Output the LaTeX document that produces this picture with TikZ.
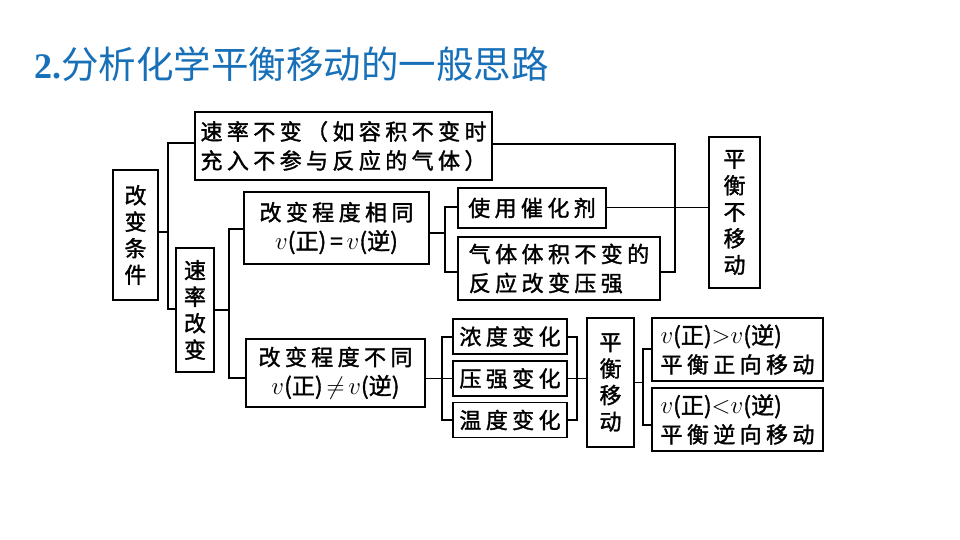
\documentclass[tikz,border=0pt]{standalone}
\usepackage{fontspec}
\newfontfamily\cjk[LetterSpace=20,FakeBold=1.5]{Noto Sans CJK SC}
\newfontfamily\cjkn[FakeBold=1.5]{Noto Sans CJK SC}
\newfontfamily\cjktitle{Noto Sans CJK SC}
\newfontfamily\titleserif{Liberation Serif}
\definecolor{titleblue}{RGB}{24,112,184}
\tikzset{
  box/.style={draw=black, line width=1.8pt, inner sep=0pt, align=center,
    font=\cjk\fontsize{22}{29}\selectfont},
  vbox/.style={box, font=\cjk\fontsize{22}{26.5}\selectfont},
  conn/.style={line width=1.6pt},
  thin/.style={line width=1pt}
}
\newcommand{\vv}{$v$}
\newcommand{\rateline}[1]{{\cjkn\fontsize{23}{29}\selectfont #1}}
\begin{document}
\begin{tikzpicture}[x=1pt,y=-1pt]
\useasboundingbox (0,0) rectangle (960,540);
\node[anchor=west, text=titleblue, inner sep=0pt] (title) at (34,64)
  {{\titleserif\bfseries\fontsize{36}{36}\selectfont 2.}{\cjktitle\fontsize{37.5}{38}\selectfont 分析化学平衡移动的一般思路}};

\node[vbox, minimum width=45, minimum height=130] (tj) at (135.5,235) {改\\变\\条\\件};
\node[box, minimum width=297, minimum height=68, align=left] (bb) at (343.5,146)
  {速率不变（如容积不变时\\充入不参与反应的气体）};
\node[vbox, minimum width=38, minimum height=124] (gb) at (195,310) {速\\率\\改\\变};
\node[box, minimum width=185, minimum height=72] (xt) at (336.5,228)
  {改变程度相同\\\rateline{\vv(正)\,=\,\vv(逆)}};
\node[box, minimum width=148, minimum height=40] (ch) at (532,208) {使用催化剂};
\node[box, minimum width=202, minimum height=63, align=left] (qt) at (559,268.5)
  {气体体积不变的\\反应改变压强};
\node[vbox, minimum width=51, minimum height=151] (bm) at (734.5,212.5) {平\\衡\\不\\移\\动};
\node[box, minimum width=179, minimum height=68] (bt) at (335.5,373)
  {改变程度不同\\\rateline{\vv(正)\,$\neq$\,\vv(逆)}};
\node[box, minimum width=114, minimum height=35] (nd) at (510,336.5) {浓度变化};
\node[box, minimum width=114, minimum height=35] (yq) at (510,378.5) {压强变化};
\node[box, minimum width=114, minimum height=35] (wd) at (510,420) {温度变化};
\node[vbox, minimum width=47, minimum height=129] (py) at (610.5,382.5) {平\\衡\\移\\动};
\node[box, minimum width=171, minimum height=63, align=left] (zx) at (737.5,349.5)
  {\rateline{\vv(正)$>$\vv(逆)}\\平衡正向移动};
\node[box, minimum width=171, minimum height=63, align=left] (nx) at (737.5,419.5)
  {\rateline{\vv(正)$<$\vv(逆)}\\平衡逆向移动};

% coordinates
\coordinate (a1) at (168,232);
\coordinate (a2) at (168,143);
\coordinate (a3) at (168,309);
\coordinate (b1) at (229,310);
\coordinate (b2) at (229,229);
\coordinate (b3) at (229,378);
\coordinate (c1) at (445,233);
\coordinate (c2) at (445,207);
\coordinate (c3) at (445,272);
\coordinate (d1) at (675,144);
\coordinate (d2) at (675,272);
\coordinate (e1) at (442,337);
\coordinate (e2) at (442,420);
\coordinate (f1) at (577,337);
\coordinate (f2) at (577,420);
\coordinate (f3) at (577,378.5);
\coordinate (g1) at (643,382);
\coordinate (g2) at (643,349);
\coordinate (g3) at (643,425);

\draw[conn] (tj.east |- a1) -- (a1);
\draw[conn] (bb.west |- a2) -| (a3) -- (gb.west |- a3);
\draw[conn] (gb.east |- b1) -- (b1);
\draw[conn] (xt.west |- b2) -| (b3) -- (bt.west |- b3);
\draw[conn] (xt.east |- c1) -- (c1);
\draw[conn] (ch.west |- c2) -| (c3) -- (qt.west |- c3);
\draw[thin] (ch.east |- c2) -- (bm.west |- c2);
\draw[conn] (bb.east |- d1) -| (d2) -- (qt.east |- d2);
\draw[thin] (bt.east |- b3) -- (yq.west |- b3);
\draw[conn] (nd.west |- e1) -| (e2) -- (wd.west |- e2);
\draw[conn] (nd.east |- f1) -| (f2) -- (wd.east |- f2);
\draw[thin] (yq.east |- f3) -- (py.west |- f3);
\draw[thin] (py.east |- g1) -- (g1);
\draw[conn] (zx.west |- g2) -| (g3) -- (nx.west |- g3);
\end{tikzpicture}
\end{document}
